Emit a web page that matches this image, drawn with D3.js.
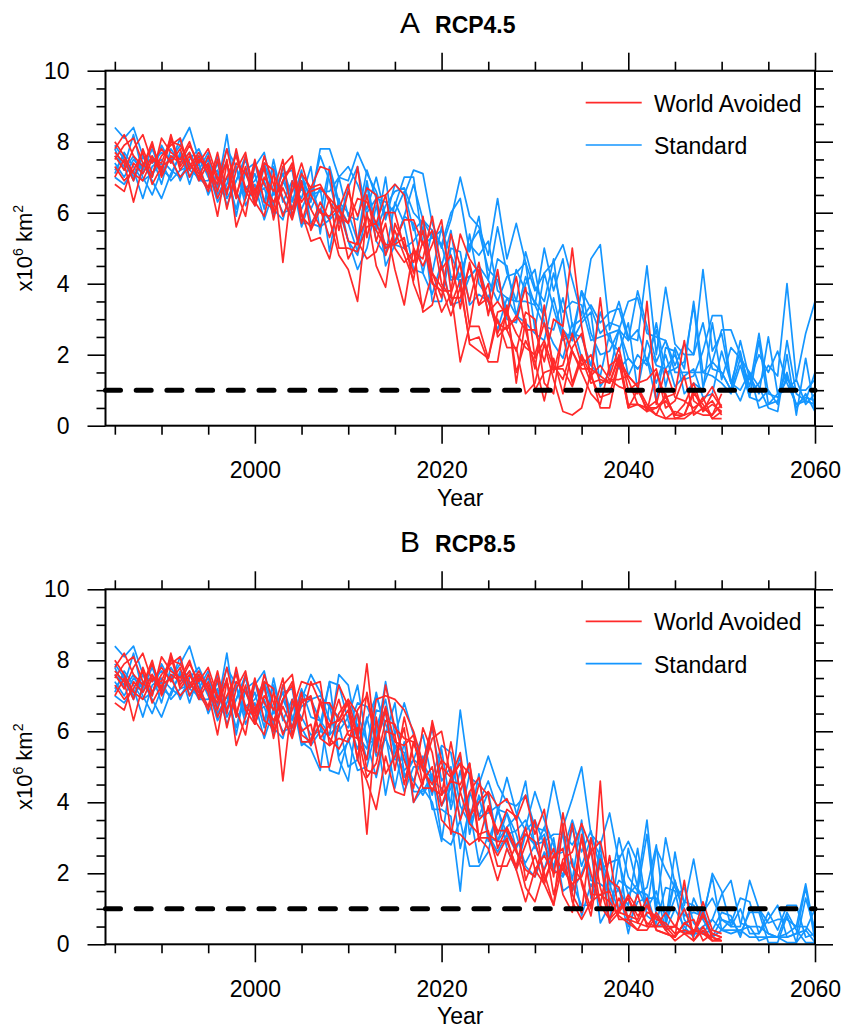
<!DOCTYPE html>
<html><head><meta charset="utf-8">
<script src="https://cdn.jsdelivr.net/npm/d3@7"></script>
<style>
body{margin:0;background:#fff}
text{font-family:"Liberation Sans",Arial,Helvetica,sans-serif;fill:#000}
</style>
</head><body>
<svg id="chart" width="843" height="1034"></svg>
<script>
// ---------------- DATA ----------------
const histStart = 1985;   // historical part 1985-2005 (shared by both panels)
const rcpStart = 2006;    // scenario part starts 2006
const seriesNames = ["World Avoided", "Standard"];
const panelLetters = ["A", "B"];
const scenarioNames = ["RCP4.5", "RCP8.5"];
const xTickLabels = [2000, 2020, 2040, 2060];
const yTickLabels = [0, 2, 4, 6, 8, 10];
const thresholdValue = 1;

// Historical 1985-2005, 8 members each (x10^6 km^2)
const histWorldAvoided = [
 [7.8,8.2,7.6,7.3,7.9,7.2,8.0,7.9,7.4,7.0, 7.6,6.9,7.4,6.5,7.3,6.2,7.0,6.6,7.5,5.9,6.9],
 [7.0,7.5,6.9,7.8,7.1,7.6,7.9,8.1,7.2,7.6, 7.1,5.9,7.4,6.4,7.6,6.6,7.3,5.8,6.9,7.4,5.9],
 [7.5,7.9,8.1,7.4,7.0,8.1,7.7,7.5,8.0,7.2, 6.7,7.7,6.5,7.8,6.6,6.2,7.4,7.2,4.6,6.9,6.3],
 [6.8,6.6,7.4,7.1,7.6,7.1,8.2,7.3,7.7,6.9, 7.4,6.6,7.5,5.6,6.4,7.5,6.3,6.1,7.3,7.6,6.0],
 [7.6,7.2,7.8,8.2,7.4,7.8,7.4,7.8,7.0,7.5, 7.3,6.4,7.0,7.6,6.7,6.4,7.6,6.8,5.9,6.6,7.4],
 [8.0,7.6,7.1,6.9,7.5,7.4,8.1,7.2,7.6,7.1, 6.6,7.5,6.1,7.2,7.7,6.3,5.9,7.1,6.4,5.8,6.8],
 [7.3,6.9,7.2,7.7,6.8,7.3,7.5,7.0,7.3,7.7, 7.2,6.8,7.8,6.6,5.9,7.4,6.8,6.3,6.9,7.3,5.7],
 [7.7,7.4,6.3,7.3,8.0,7.0,7.6,7.4,7.9,7.4, 7.8,7.0,6.6,7.4,7.1,6.5,7.3,6.0,6.7,6.1,7.1]
];
const histStandard = [
 [8.4,8.1,8.4,7.6,7.4,7.7,7.5,7.9,8.4,7.5, 7.1,6.7,7.8,7.3,6.4,7.3,7.7,6.5,7.1,6.1,6.9],
 [7.2,7.6,7.0,7.4,6.9,6.4,7.1,7.6,7.2,7.0, 6.7,7.4,6.4,6.9,7.6,6.2,6.9,6.1,5.8,6.8,6.4],
 [7.6,7.3,8.2,7.1,7.6,6.8,7.8,7.4,7.7,7.2, 7.7,6.5,7.0,6.1,7.2,7.4,6.3,7.3,6.4,5.9,7.1],
 [7.0,6.8,7.2,6.4,7.3,7.5,7.2,7.0,7.4,6.9, 6.9,7.6,6.6,7.3,6.2,6.8,5.8,6.6,7.1,7.2,5.7],
 [7.9,7.5,6.9,7.6,7.0,7.9,7.4,8.1,7.0,7.4, 6.5,7.1,7.4,5.9,7.2,6.2,7.3,6.2,7.3,6.4,6.1],
 [7.4,7.0,7.5,7.2,7.8,7.1,7.6,6.9,7.5,7.8, 7.2,6.3,6.8,7.7,6.5,7.1,6.1,7.5,6.3,6.9,5.6],
 [7.1,7.7,7.3,6.9,7.1,7.4,6.9,7.2,7.3,7.1, 7.5,6.7,8.2,6.4,6.7,6.9,7.4,6.6,6.0,6.1,6.7],
 [7.8,7.2,7.6,7.0,6.5,7.2,7.0,7.7,6.8,7.6, 7.0,7.2,6.2,6.9,7.5,6.5,6.7,5.9,6.9,6.3,7.2]
];

// RCP4.5 World Avoided 2006-2050
const rcp45WorldAvoided = [
 [5.5,6.1,5.3,6.1,6.8, 5.2,5.9,5.5,5.0,5.2, 5.8,5.8,5.1,5.5,4.0, 3.6,3.6,4.5,3.4,3.6, 2.6,3.2,2.6,2.2,2.0, 2.9,1.7,1.3,2.2,2.6, 1.4,0.8,0.9,1.8,1.3, 0.6,0.4,1.5,0.8,0.3, 0.6,1.2,0.4,0.9,0.5],
 [5.6,6.3,5.8,4.8,4.4, 3.5,6.0,4.5,3.9,5.7, 5.1,4.3,5.2,4.0,3.8, 3.8,1.8,2.8,2.8,1.9, 3.2,3.3,1.5,2.4,1.8, 0.7,1.9,0.9,2.1,1.5, 0.9,0.6,1.7,1.9,1.4, 1.1,0.6,0.3,0.9,0.2, 0.3,0.4,0.8,0.2,0.4],
 [6.7,6.8,6.3,5.9,5.7, 7.3,5.3,6.4,6.5,6.8, 6.5,5.0,4.5,5.1,5.8, 3.8,5.4,4.7,4.3,3.2, 3.5,3.1,4.2,2.7,2.7, 1.8,3.0,2.8,5.0,2.8, 1.3,3.6,1.4,2.2,1.0, 0.9,3.5,0.6,1.6,0.8, 0.7,0.5,0.7,1.1,0.5],
 [5.2,5.3,4.7,5.9,4.7, 5.2,4.7,4.9,5.7,4.4, 3.4,5.0,3.2,3.4,4.5, 3.4,4.1,2.3,2.1,1.9, 3.0,2.2,2.2,0.9,1.2, 2.3,1.3,0.4,0.3,0.5, 1.5,0.5,0.5,1.8,0.5, 1.0,0.5,0.3,0.2,0.2, 0.2,0.4,0.3,0.3,0.9],
 [6.5,6.0,5.9,6.2,5.2, 5.1,6.5,5.2,6.0,6.0, 5.0,4.6,5.5,4.1,3.2, 3.7,4.6,2.8,4.4,3.5, 2.9,2.7,2.1,3.2,3.0, 1.2,0.9,2.7,2.1,1.6, 1.6,1.4,1.2,2.0,0.6, 0.6,0.5,0.5,0.7,0.3, 0.3,1.0,0.4,0.6,0.4],
 [6.1,5.6,6.4,5.0,5.0, 4.9,5.6,5.7,5.1,5.1, 5.3,4.0,3.3,4.3,3.9, 3.1,3.9,2.4,2.5,1.8, 1.8,3.4,1.2,3.0,1.0, 1.5,1.6,1.6,1.1,1.9, 1.2,1.3,1.2,1.9,0.5, 0.6,0.5,0.7,0.2,0.4, 0.3,0.9,0.6,0.2,0.2],
 [6.6,6.7,6.4,6.1,5.7, 6.4,6.3,5.7,6.5,5.0, 4.6,4.9,4.7,5.9,4.4, 4.8,3.3,4.6,3.4,4.0, 2.5,2.8,3.0,3.9,1.9, 2.4,1.6,1.7,2.6,1.7, 2.0,1.2,1.3,1.3,1.4, 1.1,0.4,0.5,0.8,0.9, 2.4,0.7,0.5,0.3,0.6],
 [6.7,7.3,7.2,5.5,6.6, 5.9,6.7,6.5,4.8,5.5, 4.8,4.1,5.9,4.3,3.6, 5.4,4.5,3.5,4.6,3.1, 4.4,2.7,3.1,2.7,1.6, 3.4,1.5,2.6,1.2,2.0, 1.4,1.7,1.3,1.1,1.0, 1.2,1.3,1.6,0.5,0.7, 1.4,0.3,0.5,0.7,0.3]
];
// RCP4.5 Standard 2006-2060
const rcp45Standard = [
 [6.5,6.6,6.6,7.0,6.9, 7.7,7.1,6.6,5.8,6.8, 6.5,7.2,7.1,5.7,5.0, 5.8,7.0,5.9,5.6,4.8, 6.4,4.7,5.7,4.6,3.8, 4.3,4.6,5.1,4.1,3.1, 4.7,5.1,2.7,3.5,2.5, 2.4,4.5,2.0,3.9,2.3, 2.0,2.0,4.4,2.1,2.6, 1.2,2.1,0.9,1.2,1.7, 1.4,4.0,1.3,2.6,3.5],
 [7.3,5.4,7.2,6.2,5.7, 4.9,6.8,5.2,4.8,6.3, 5.7,4.4,4.3,5.5,4.5, 5.5,3.8,5.4,4.0,3.6, 4.3,3.0,2.9,4.0,4.4, 2.9,2.3,1.9,2.9,1.9, 1.7,3.2,2.4,2.1,2.9, 1.0,2.4,1.7,1.6,2.0, 1.3,1.4,2.1,3.1,3.1, 1.2,0.7,1.4,0.9,2.5, 0.9,1.0,1.3,0.6,0.9],
 [6.3,7.8,7.8,7.0,7.3, 6.8,6.1,7.0,5.9,6.2, 7.0,7.0,5.1,5.3,5.1, 6.0,6.4,4.9,5.9,4.1, 5.6,4.3,3.5,3.5,3.4, 5.0,3.8,4.7,2.8,3.0, 3.4,2.9,3.2,3.3,2.4, 3.8,2.8,1.8,2.4,1.7, 2.3,2.0,2.9,1.6,1.5, 1.0,2.4,1.3,2.0,1.5, 2.1,1.2,0.6,0.7,1.5],
 [5.7,5.6,5.8,6.1,5.2, 4.8,6.0,6.4,4.5,5.1, 5.9,5.7,4.3,3.7,4.6, 3.4,3.5,4.2,4.5,3.5, 4.7,4.5,3.1,4.2,3.4, 2.8,2.7,3.6,2.4,2.9, 3.2,1.1,1.5,2.7,1.9, 1.6,1.9,0.7,2.2,2.1, 0.9,1.2,1.0,2.9,1.3, 2.2,1.9,1.5,0.5,0.6, 0.9,1.5,0.5,0.9,0.4],
 [6.7,6.0,7.3,6.3,6.0, 5.2,6.9,5.5,6.2,6.6, 6.7,6.0,5.7,4.3,5.6, 4.2,4.1,4.2,4.5,4.1, 3.5,4.2,4.3,4.6,2.7, 4.3,3.3,2.4,2.6,3.8, 3.3,2.6,2.9,2.8,1.4, 2.0,1.7,2.9,1.5,1.6, 1.8,3.4,1.1,1.8,1.5, 1.0,1.9,0.8,2.4,0.6, 0.7,1.4,0.6,0.8,0.7],
 [6.4,7.6,6.9,5.7,6.7, 7.3,5.9,5.5,7.0,5.1, 5.9,6.8,5.8,5.3,5.5, 4.8,4.2,5.1,4.8,5.2, 3.8,3.6,3.5,4.9,3.9, 3.5,4.7,2.7,2.4,3.8, 2.6,2.0,2.1,2.7,3.5, 3.6,2.6,2.5,2.4,1.5, 1.5,1.5,1.5,1.8,2.7, 2.7,2.0,1.1,2.6,0.9, 0.8,1.3,1.0,1.0,1.3],
 [6.1,6.7,4.9,6.4,5.2, 4.4,5.0,6.2,5.0,5.1, 5.0,5.2,5.6,3.5,3.5, 5.0,4.9,3.4,3.7,3.5, 2.7,3.6,3.1,2.9,2.6, 2.4,3.6,2.5,2.6,2.5, 1.7,1.4,2.6,1.6,1.9, 1.6,1.9,1.2,2.0,1.1, 1.4,1.6,0.8,0.9,2.1, 1.2,1.0,1.5,1.1,0.5, 0.4,2.0,0.3,1.9,0.4],
 [5.7,6.1,5.8,7.0,5.9, 5.8,7.2,6.4,6.3,6.0, 6.6,5.5,5.8,5.5,5.1, 4.1,4.2,5.1,5.5,4.4, 4.1,3.2,4.4,3.8,3.5, 3.1,4.3,3.2,3.5,3.4, 2.4,2.5,2.6,2.7,2.4, 2.7,1.8,2.7,1.1,2.2, 1.6,3.5,1.5,1.4,1.2, 0.9,1.7,0.8,0.7,1.0, 0.6,2.4,0.9,0.7,0.6]
];

// RCP8.5 World Avoided 2006-2050
const rcp85WorldAvoided = [
 [6.9,5.8,6.2,6.3,6.9, 6.5,4.9,4.8,6.0,5.9, 4.5,5.7,5.0,4.3,5.0, 4.7,5.1,4.8,2.9,3.9, 3.1,3.8,3.6,1.8,2.5, 1.7,1.1,3.4,1.4,0.9, 3.0,1.6,0.7,1.3,0.7, 1.4,0.5,0.5,0.5,0.2, 1.8,0.1,0.5,0.1,0.2],
 [5.7,6.2,5.8,5.5,6.0, 6.1,3.1,6.4,4.8,5.3, 6.1,4.0,4.6,5.0,3.5, 3.2,3.1,2.8,3.0,2.7, 1.8,2.7,2.1,1.2,2.1, 1.7,2.5,2.7,1.2,0.7, 1.2,1.4,1.2,0.8,0.6, 0.4,0.4,0.8,0.4,0.1, 0.3,0.3,0.9,0.2,0.1],
 [7.4,6.8,6.1,6.9,5.9, 5.8,7.9,5.4,7.3,6.1, 5.8,5.7,4.9,5.8,6.0, 4.7,5.4,3.6,4.0,4.3, 3.9,4.1,3.5,4.2,3.1, 3.8,1.9,3.7,2.2,1.8, 1.0,4.6,1.0,0.9,1.4, 1.0,0.6,0.5,0.9,0.5, 1.0,0.3,1.2,0.4,0.3],
 [6.2,5.0,5.0,6.2,6.6, 5.2,4.6,3.8,5.3,4.3, 4.2,5.7,4.9,4.5,5.2, 3.1,4.3,3.4,3.1,3.2, 2.2,2.2,2.8,3.1,2.9, 2.0,1.1,2.3,1.5,3.0, 1.4,1.4,1.5,0.7,0.7, 0.4,0.9,0.8,0.4,0.5, 0.3,0.1,0.4,0.1,0.1],
 [7.3,7.4,5.6,5.8,5.7, 6.6,7.0,5.6,6.6,4.9, 6.4,5.2,4.4,4.4,4.2, 5.7,4.3,5.1,3.0,3.0, 2.5,3.0,2.1,2.8,3.5, 1.8,2.5,2.1,1.7,1.9, 2.6,2.9,1.8,1.6,0.7, 0.6,0.5,0.9,0.5,0.5, 0.3,0.4,0.3,0.2,0.1],
 [7.0,5.8,5.6,6.5,6.9, 5.9,4.7,5.1,6.3,6.2, 5.2,4.4,6.1,5.4,3.9, 4.7,5.1,3.5,4.5,4.2, 2.7,3.3,2.7,1.6,1.2, 2.1,2.7,1.4,0.9,3.1, 2.0,1.1,2.5,0.9,0.8, 0.7,1.3,0.4,0.3,0.2, 0.6,0.7,0.1,0.3,0.2],
 [5.7,6.9,6.1,7.3,6.7, 5.8,5.2,6.9,7.0,6.9, 6.6,6.0,5.1,6.2,4.2, 4.6,4.5,5.1,3.5,3.8, 3.2,3.2,2.6,2.1,1.9, 3.0,1.4,2.4,2.6,3.4, 2.7,1.1,0.7,1.0,1.3, 0.6,1.1,0.7,0.6,0.3, 0.4,0.3,0.8,0.3,0.2],
 [5.6,6.8,6.8,6.3,6.8, 5.2,7.1,5.7,6.7,5.7, 5.6,5.9,4.5,6.3,5.2, 4.9,3.5,4.3,4.7,3.1, 2.9,2.9,2.2,3.3,2.1, 2.5,2.0,2.1,3.4,1.7, 0.8,2.4,0.6,0.9,1.3, 0.8,1.1,0.4,0.3,0.2, 0.6,0.4,0.3,0.1,0.1]
];
// RCP8.5 Standard 2006-2060
const rcp85Standard = [
 [7.6,7.1,6.3,6.0,6.4, 7.3,5.7,5.7,7.4,5.9, 6.8,5.9,5.1,4.6,4.4, 4.0,6.6,4.7,4.5,5.3, 4.5,4.0,3.9,4.2,3.3, 3.2,4.6,3.3,4.1,5.0, 3.1,2.8,3.7,2.3,1.4, 1.7,3.5,1.0,3.0,1.7, 1.2,1.1,0.7,2.0,1.5, 0.5,0.5,1.8,1.0,0.6, 0.7,0.7,0.5,1.7,0.3],
 [5.9,6.0,5.9,6.2,5.0, 5.2,6.4,5.3,5.8,5.2, 5.2,4.6,5.3,3.8,3.8, 3.6,1.5,4.3,3.6,3.7, 3.9,2.7,2.1,3.1,2.8, 2.1,3.0,1.5,1.7,1.1, 1.1,2.8,0.6,2.5,0.5, 1.2,1.3,1.3,0.8,1.8, 0.8,0.9,0.8,1.9,0.4, 0.3,0.4,0.5,0.1,0.2, 0.2,0.9,0.4,0.05,0.05],
 [6.9,7.0,6.7,6.4,6.1, 6.8,6.7,6.1,6.9,5.4, 4.9,5.2,5.0,6.1,4.6, 5.0,3.5,4.8,3.6,4.3, 2.9,3.3,3.6,4.6,2.7, 3.3,2.5,2.6,3.5,2.6, 3.2,2.1,2.3,2.4,2.9, 2.3,0.8,0.6,1.6,1.5, 0.3,1.3,0.7,0.2,0.7, 0.6,1.3,1.2,0.3,0.9, 0.4,1.1,1.1,0.2,0.3],
 [5.5,4.9,6.8,5.2,4.6, 6.5,5.7,4.7,5.9,4.4, 5.7,4.0,4.4,4.0,2.9, 4.7,2.7,3.8,2.3,3.1, 2.6,3.1,2.6,2.3,2.8, 2.9,3.1,3.1,1.5,2.0, 2.7,0.6,1.1,1.6,0.3, 1.5,1.4,0.5,0.6,1.3, 1.6,0.6,0.3,0.4,0.9, 0.8,0.2,1.0,1.0,0.3, 0.2,0.05,0.05,0.4,0.05],
 [5.6,6.0,7.4,5.3,5.7, 6.2,5.2,6.6,6.5,5.4, 4.3,5.0,5.0,4.2,5.5, 3.8,4.9,3.4,4.0,4.6, 3.8,3.1,3.2,3.5,2.8, 3.1,2.1,3.2,1.8,3.5, 1.3,2.5,1.7,0.9,2.7, 1.6,1.0,2.7,2.1,1.6, 1.0,0.3,0.5,0.7,0.4, 0.4,0.4,0.2,0.2,0.2, 0.2,0.3,0.5,0.5,0.2],
 [5.8,6.2,7.4,7.3,6.3, 5.5,6.3,7.0,6.2,5.6, 4.7,5.2,5.9,4.6,3.9, 4.4,5.3,3.1,4.2,3.0, 2.9,3.7,2.7,3.3,4.3, 3.5,2.8,1.9,3.3,2.2, 3.0,2.5,1.2,1.8,1.6, 1.4,1.6,2.8,0.6,2.6, 1.1,2.4,0.9,1.3,0.7, 0.5,1.0,0.3,0.3,0.7, 1.1,0.2,0.3,1.6,0.1],
 [6.9,6.3,4.9,4.8,5.8, 4.9,5.0,6.1,4.2,5.6, 5.4,4.3,4.3,4.8,3.0, 2.8,3.5,2.2,2.2,2.6, 3.8,3.7,3.1,2.2,1.9, 2.6,2.1,1.9,2.4,0.8, 1.7,1.2,1.8,1.5,1.1, 2.7,1.0,1.5,0.4,1.0, 0.5,0.2,1.0,0.2,0.4, 0.7,0.3,0.9,0.9,0.05, 0.05,0.8,0.05,1.3,0.4],
 [6.4,6.3,5.9,7.6,7.3, 5.9,5.5,7.1,5.9,6.8, 4.8,4.6,4.2,4.7,5.6, 5.4,3.9,3.4,4.8,2.9, 3.7,4.7,3.7,3.2,3.5, 2.8,2.2,3.1,2.8,3.3, 1.8,1.7,1.5,3.0,1.9, 1.5,3.1,0.8,0.5,1.8, 0.7,0.3,0.3,0.7,1.4, 1.8,0.6,0.5,0.5,0.3, 0.2,0.2,0.3,0.4,1.0]
];

// ---------------- DRAW ----------------
const colors = {red: "#ff2a2a", blue: "#1496ff"};
const svg = d3.select("#chart");
svg.append("rect").attr("width", 843).attr("height", 1034).attr("fill", "#fff");

const left = 105.5, right = 815, plotH = 355;
const panelTops = [70.7, 589.3];
const x = d3.scaleLinear().domain([1984, 2060]).range([left, right]);
const xMinor = d3.range(1985, 2060, 5).filter(v => !xTickLabels.includes(v));
const yMinor = d3.range(0.5, 10, 0.5).filter(v => !yTickLabels.includes(v));

const scenarios = [
  {red: rcp45WorldAvoided, blue: rcp45Standard},
  {red: rcp85WorldAvoided, blue: rcp85Standard}
];

function runs(hist, rcp) {
  return hist.map((h, i) => {
    const pts = h.map((v, j) => ({year: histStart + j, v}));
    rcp[i].forEach((v, j) => pts.push({year: rcpStart + j, v}));
    return pts;
  });
}

panelTops.forEach((top, p) => {
  const y = d3.scaleLinear().domain([0, 10]).range([top + plotH, top]);
  const g = svg.append("g");

  // lines
  const line = d3.line().x(d => x(d.year)).y(d => y(d.v));
  g.append("g").selectAll("path").data(runs(histStandard, scenarios[p].blue)).join("path")
    .attr("d", line).attr("fill", "none").attr("stroke", colors.blue)
    .attr("stroke-width", 1.7).attr("stroke-linejoin", "round");
  g.append("g").selectAll("path").data(runs(histWorldAvoided, scenarios[p].red)).join("path")
    .attr("d", line).attr("fill", "none").attr("stroke", colors.red)
    .attr("stroke-width", 1.7).attr("stroke-linejoin", "round");

  // threshold dashed line
  g.append("line").attr("x1", x(1984)).attr("x2", x(2060))
    .attr("y1", y(thresholdValue)).attr("y2", y(thresholdValue))
    .attr("stroke", "#000").attr("stroke-width", 5)
    .attr("stroke-dasharray", "15,15.7").attr("stroke-linecap", "round");

  // axes
  const style = sel => { sel.select(".domain").remove();
    sel.selectAll("line").attr("stroke", "#000").attr("stroke-width", 1.6);
    sel.selectAll("text").attr("font-size", 23).attr("font-family", "Liberation Sans, Arial, sans-serif"); };
  g.append("g").attr("transform", `translate(0,${top + plotH})`)
    .call(d3.axisBottom(x).tickValues(xTickLabels).tickSize(18).tickPadding(18).tickFormat(d3.format("d"))).call(style);
  g.append("g").attr("transform", `translate(0,${top + plotH})`)
    .call(d3.axisBottom(x).tickValues(xMinor).tickSize(9).tickFormat("")).call(style);
  g.append("g").attr("transform", `translate(0,${top})`)
    .call(d3.axisTop(x).tickValues(xTickLabels).tickSize(18).tickFormat("")).call(style);
  g.append("g").attr("transform", `translate(0,${top})`)
    .call(d3.axisTop(x).tickValues(xMinor).tickSize(9).tickFormat("")).call(style);
  g.append("g").attr("transform", `translate(${left},0)`)
    .call(d3.axisLeft(y).tickValues(yTickLabels).tickSize(18).tickPadding(18).tickFormat(d3.format("d"))).call(style);
  g.append("g").attr("transform", `translate(${left},0)`)
    .call(d3.axisLeft(y).tickValues(yMinor).tickSize(9).tickFormat("")).call(style);
  g.append("g").attr("transform", `translate(${right},0)`)
    .call(d3.axisRight(y).tickValues(yTickLabels).tickSize(18).tickFormat("")).call(style);
  g.append("g").attr("transform", `translate(${right},0)`)
    .call(d3.axisRight(y).tickValues(yMinor).tickSize(9).tickFormat("")).call(style);

  // frame
  g.append("rect").attr("x", left).attr("y", top).attr("width", right - left).attr("height", plotH)
    .attr("fill", "none").attr("stroke", "#000").attr("stroke-width", 2);

  // legend
  const legendItems = [{name: seriesNames[0], c: colors.red}, {name: seriesNames[1], c: colors.blue}];
  legendItems.forEach((it, i) => {
    const ly = top + 32 + i * 42.3;
    g.append("line").attr("x1", 585.7).attr("x2", 641.7).attr("y1", ly).attr("y2", ly)
      .attr("stroke", it.c).attr("stroke-width", 1.7);
    g.append("text").attr("x", 654).attr("y", ly + 9).attr("font-size", 23).text(it.name);
  });

  // title
  const t = g.append("text").attr("y", top - 37.5);
  t.append("tspan").attr("x", 400).attr("font-size", 30).text(panelLetters[p]);
  t.append("tspan").attr("dx", 15).attr("font-size", 23).attr("font-weight", "bold").text(scenarioNames[p]);

  // axis titles
  g.append("text").attr("x", (left + right) / 2).attr("y", top + plotH + 80)
    .attr("text-anchor", "middle").attr("font-size", 23).text("Year");
  const yl = g.append("text").attr("transform", `translate(32,${top + plotH / 2}) rotate(-90)`)
    .attr("text-anchor", "middle").attr("font-size", 22);
  yl.append("tspan").text("x10");
  yl.append("tspan").attr("font-size", 14).attr("dy", -9).text("6");
  yl.append("tspan").attr("dy", 9).text(" km");
  yl.append("tspan").attr("font-size", 14).attr("dy", -9).text("2");
});
</script>
</body></html>
